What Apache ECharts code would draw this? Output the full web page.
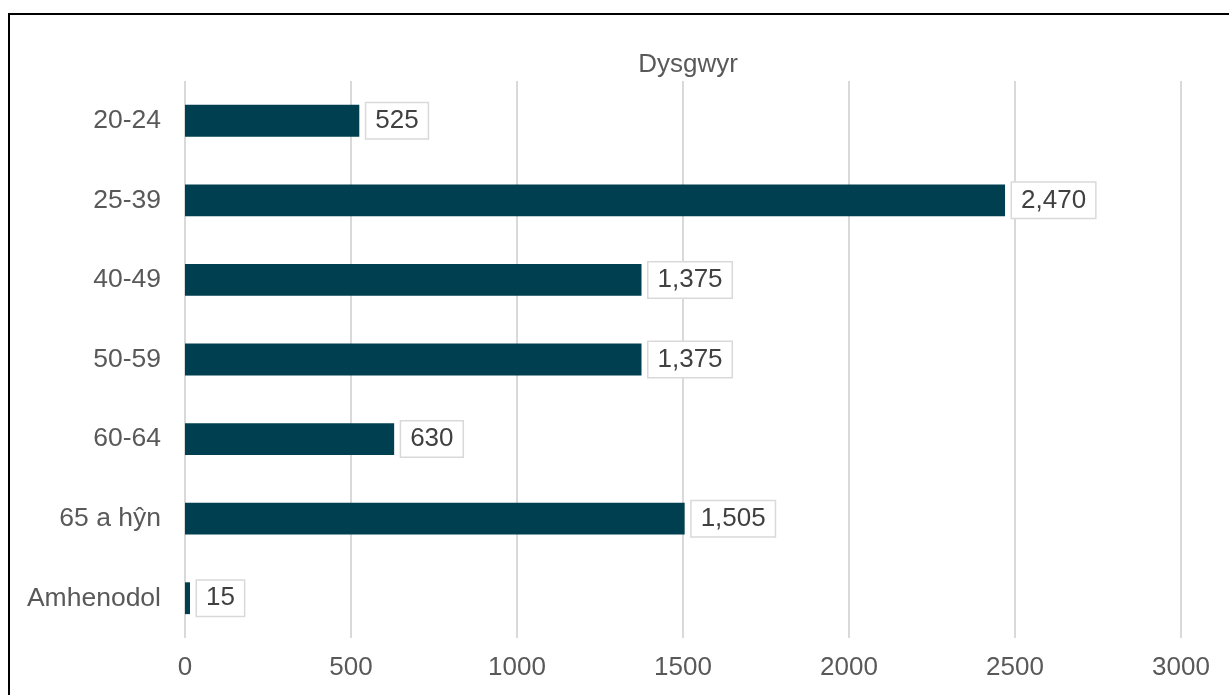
<!DOCTYPE html>
<html>
<head>
<meta charset="utf-8">
<script src="https://cdn.jsdelivr.net/npm/echarts@6/dist/echarts.min.js"></script>
<style>
html,body{margin:0;padding:0;background:#fff;overflow:hidden;}
#frame{position:absolute;left:8px;top:13px;width:1240px;height:700px;border:2px solid #000;box-sizing:border-box;}
#chart{position:absolute;left:0;top:0;width:1229px;height:695px;}
</style>
</head>
<body>
<div id="frame"></div>
<div id="chart"></div>
<script>
const categories = ['20-24', '25-39', '40-49', '50-59', '60-64', '65 a hŷn', 'Amhenodol'];
const values = [525, 2470, 1375, 1375, 630, 1505, 15];
const xTicks = [0, 500, 1000, 1500, 2000, 2500, 3000];
const titleText = 'Dysgwyr';

const chart = echarts.init(document.getElementById('chart'), null, {renderer: 'canvas'});
const font = 'Liberation Sans, Arial, sans-serif';
chart.setOption({
  backgroundColor: 'transparent',
  animation: false,
  title: {
    text: titleText,
    left: 683, top: 47, textAlign: 'center',
    textStyle: {fontFamily: font, fontSize: 26, fontWeight: 'normal', color: '#595959'}
  },
  grid: {left: 185, right: 48, top: 81, bottom: 57, containLabel: false},
  xAxis: {
    type: 'value', min: xTicks[0], max: xTicks[xTicks.length - 1], interval: 500,
    axisLine: {show: false}, axisTick: {show: false},
    splitLine: {show: true, lineStyle: {color: '#d9d9d9', width: 2}},
    axisLabel: {fontFamily: font, fontSize: 26, color: '#595959', margin: 17, formatter: v => String(v)}
  },
  yAxis: {
    type: 'category', data: categories, inverse: true,
    axisLine: {show: false}, axisTick: {show: false},
    axisLabel: {fontFamily: font, fontSize: 26.5, color: '#595959', margin: 24}
  },
  series: [{
    type: 'bar', data: values, barWidth: '40%',
    itemStyle: {color: '#003F50'},
    label: {
      show: true, position: 'right', distance: 7,
      formatter: p => p.value.toLocaleString('en-US'),
      fontFamily: font, fontSize: 26, lineHeight: 26, color: '#404040',
      backgroundColor: '#fff', borderColor: '#d9d9d9', borderWidth: 1.5,
      padding: [5, 9, 4, 9]
    }
  }]
});
</script>
</body>
</html>
